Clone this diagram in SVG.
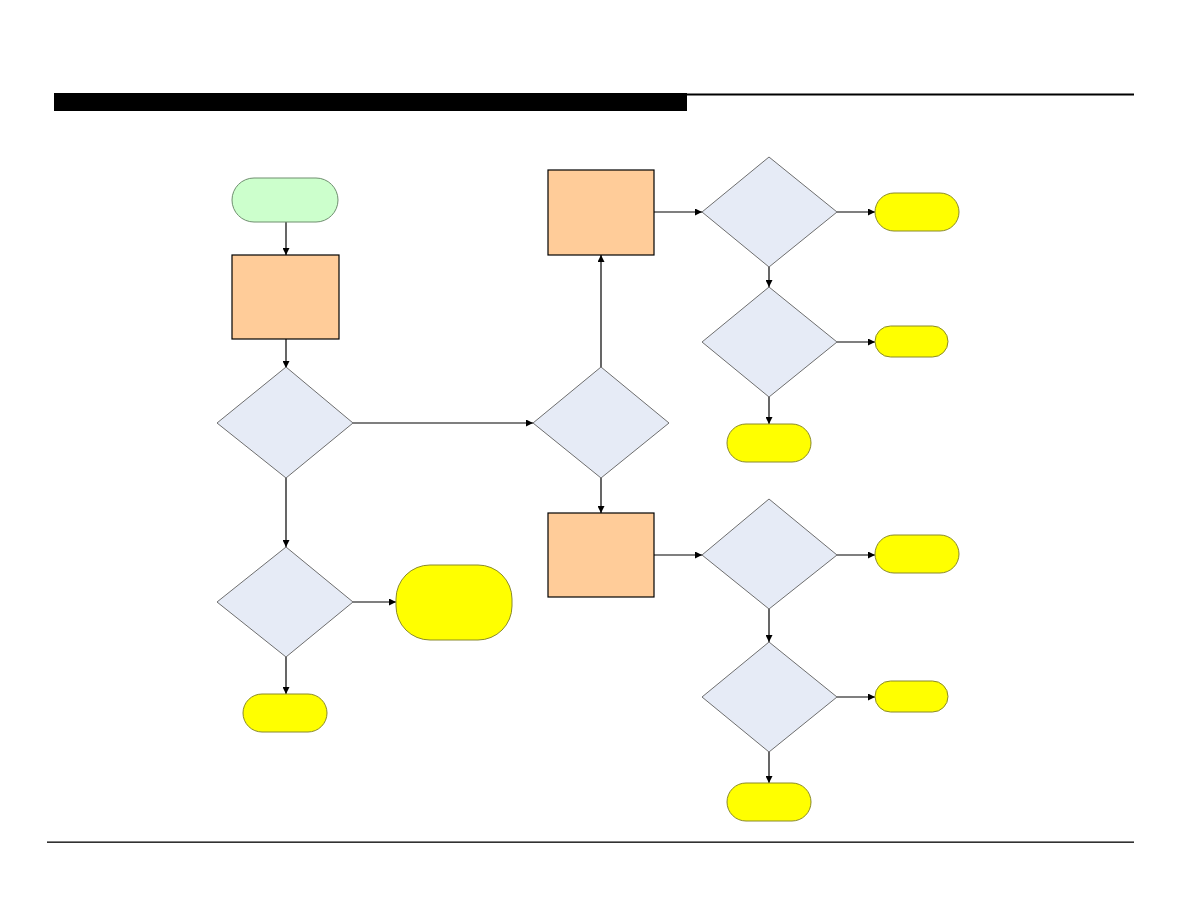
<svg xmlns="http://www.w3.org/2000/svg" width="1188" height="918" viewBox="0 0 1188 918">
<style>
.dec{fill:#e6ebf6;stroke:#6e6e6e;stroke-width:1}
.proc{fill:#ffcc99;stroke:#000;stroke-width:1.2}
.term{fill:#ffff00;stroke:#8a8a2a;stroke-width:1}
.start{fill:#ccffcc;stroke:#6f8f6f;stroke-width:1}
.con{fill:none;stroke:#000;stroke-width:1.2;marker-end:url(#arr)}
</style>
<defs>
<marker id="arr" viewBox="0 0 10 10" refX="10" refY="5" markerWidth="8" markerHeight="7" markerUnits="userSpaceOnUse" orient="auto">
<path d="M0,0 L10,5 L0,10 z" fill="#000"/>
</marker>
</defs>
<rect width="1188" height="918" fill="#fff"/>
<g id="header">
<rect x="54" y="93" width="633" height="18" fill="#000"/>
<rect x="687" y="93.5" width="447" height="2" fill="#000"/>
</g>
<g id="footer">
<rect x="47" y="841.5" width="1087" height="1.3" fill="#000"/>
</g>
<g id="connectors">
<line class="con" x1="286" y1="222" x2="286" y2="255"/>
<line class="con" x1="286" y1="339" x2="286" y2="368"/>
<line class="con" x1="353" y1="423" x2="533" y2="423"/>
<line class="con" x1="286" y1="478" x2="286" y2="547"/>
<line class="con" x1="353" y1="602" x2="396" y2="602"/>
<line class="con" x1="286" y1="657" x2="286" y2="694"/>
<line class="con" x1="601" y1="367" x2="601" y2="255"/>
<line class="con" x1="601" y1="478" x2="601" y2="513"/>
<line class="con" x1="654" y1="212" x2="702" y2="212"/>
<line class="con" x1="837" y1="212" x2="875" y2="212"/>
<line class="con" x1="769" y1="267" x2="769" y2="287"/>
<line class="con" x1="837" y1="342" x2="875" y2="342"/>
<line class="con" x1="769" y1="397" x2="769" y2="424"/>
<line class="con" x1="654" y1="555" x2="702" y2="555"/>
<line class="con" x1="837" y1="555" x2="875" y2="555"/>
<line class="con" x1="769" y1="609" x2="769" y2="642"/>
<line class="con" x1="837" y1="697" x2="875" y2="697"/>
<line class="con" x1="769" y1="752" x2="769" y2="783"/>
</g>
<g id="start"><rect class="start" x="232" y="178" width="106" height="44" rx="22"/></g>
<g id="proc1"><rect class="proc" x="232" y="255" width="107" height="84"/></g>
<g id="dec1"><polygon class="dec" points="286,367 353,423 286,478 217,423"/></g>
<g id="dec7"><polygon class="dec" points="286,547 353,602 286,657 217,602"/></g>
<g id="term7r"><rect class="term" x="396" y="565" width="116" height="75" rx="34"/></g>
<g id="term7b"><rect class="term" x="243" y="694" width="84" height="38" rx="19"/></g>
<g id="dec2"><polygon class="dec" points="601,367 669,423 601,478 533,423"/></g>
<g id="proc2"><rect class="proc" x="548" y="170" width="106" height="85"/></g>
<g id="proc3"><rect class="proc" x="548" y="513" width="106" height="84"/></g>
<g id="dec3"><polygon class="dec" points="769,157 837,212 769,267 702,212"/></g>
<g id="term3"><rect class="term" x="875" y="193" width="84" height="38" rx="19"/></g>
<g id="dec4"><polygon class="dec" points="769,287 837,342 769,397 702,342"/></g>
<g id="term4r"><rect class="term" x="875" y="326" width="73" height="31" rx="15.5"/></g>
<g id="term4b"><rect class="term" x="727" y="424" width="84" height="38" rx="19"/></g>
<g id="dec5"><polygon class="dec" points="769,499 837,555 769,609 702,555"/></g>
<g id="term5"><rect class="term" x="875" y="535" width="84" height="38" rx="19"/></g>
<g id="dec6"><polygon class="dec" points="769,642 837,697 769,752 702,697"/></g>
<g id="term6r"><rect class="term" x="875" y="681" width="73" height="31" rx="15.5"/></g>
<g id="term6b"><rect class="term" x="727" y="783" width="84" height="38" rx="19"/></g>
</svg>
